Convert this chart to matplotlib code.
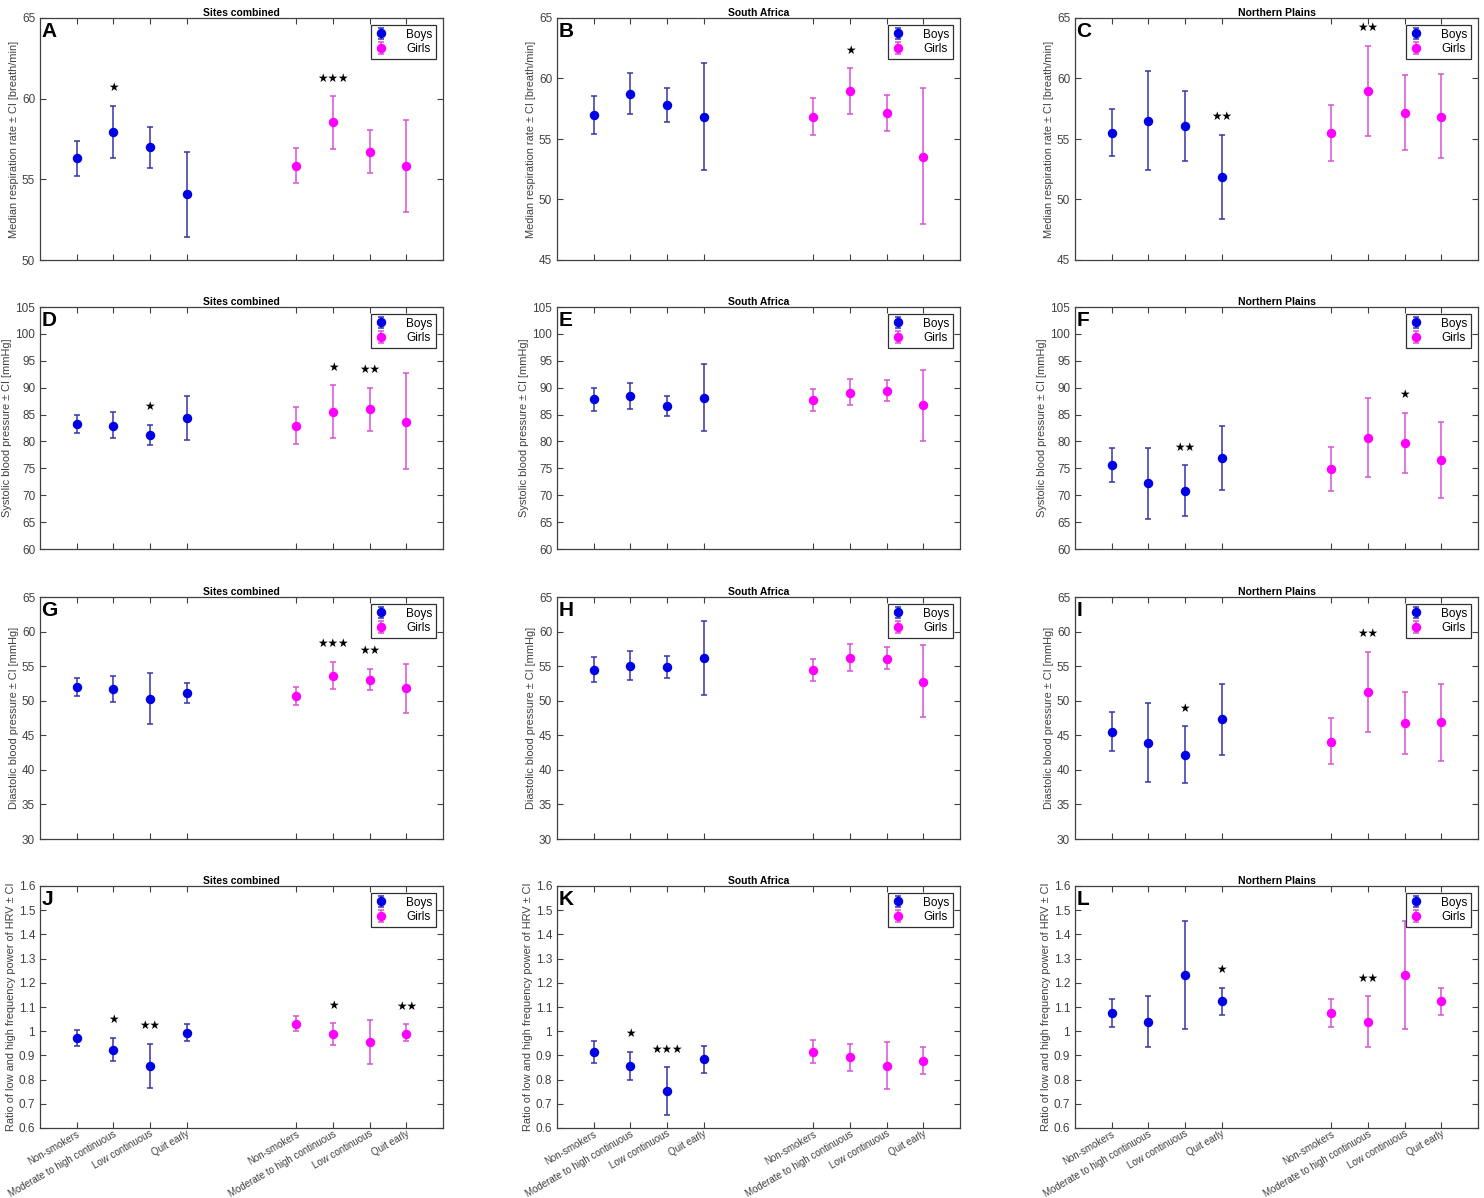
import numpy as np
import matplotlib
matplotlib.use("Agg")
import matplotlib.pyplot as plt
from matplotlib.ticker import MultipleLocator, FormatStrFormatter

plt.rcParams['font.family'] = ['Liberation Sans', 'DejaVu Sans']

# categories: 4 boys groups then 4 girls groups
categories = ["Non-smokers", "Moderate to high continuous", "Low continuous", "Quit early"]
tick_labels = categories + categories
x_pos = [1, 2, 3, 4, 7, 8, 9, 10]
sites = ["Sites combined", "South Africa", "Northern Plains"]
ylabels = ["Median respiration rate \u00b1 CI [breath/min]",
           "Systolic blood pressure \u00b1 CI [mmHg]",
           "Diastolic blood pressure \u00b1 CI [mmHg]",
           "Ratio of low and high frequency power of HRV \u00b1 CI"]

# ---- respiration rate
A_mean = [56.3, 57.95, 57.0, 54.1, 55.85, 58.55, 56.7, 55.8]
A_lo = [55.2, 56.35, 55.7, 51.45, 54.8, 56.9, 55.4, 53.0]
A_hi = [57.4, 59.55, 58.25, 56.7, 56.95, 60.15, 58.05, 58.65]
A_sig = ["", "*", "", "", "", "***", "", ""]

B_mean = [56.95, 58.7, 57.8, 56.85, 56.8, 58.95, 57.15, 53.55]
B_lo = [55.4, 57.05, 56.4, 52.4, 55.3, 57.1, 55.65, 47.95]
B_hi = [58.55, 60.45, 59.25, 61.25, 58.35, 60.85, 58.65, 59.25]
B_sig = ["", "", "", "", "", "*", "", ""]

C_mean = [55.5, 56.5, 56.1, 51.85, 55.5, 58.95, 57.15, 56.85]
C_lo = [53.6, 52.4, 53.2, 48.4, 53.15, 55.25, 54.05, 53.4]
C_hi = [57.45, 60.65, 59.0, 55.35, 57.85, 62.7, 60.3, 60.35]
C_sig = ["", "", "", "**", "", "**", "", ""]

# ---- systolic blood pressure
D_mean = [83.2, 82.9, 81.2, 84.35, 82.9, 85.55, 85.95, 83.7]
D_lo = [81.55, 80.55, 79.4, 80.3, 79.6, 80.6, 82.0, 74.85]
D_hi = [84.9, 85.4, 83.05, 88.5, 86.4, 90.45, 90.0, 92.75]
D_sig = ["", "", "*", "", "", "*", "**", ""]

E_mean = [87.85, 88.4, 86.6, 88.15, 87.65, 89.05, 89.45, 86.75]
E_lo = [85.75, 86.05, 84.75, 81.95, 85.75, 86.7, 87.6, 80.1]
E_hi = [89.95, 90.8, 88.5, 94.4, 89.7, 91.55, 91.5, 93.35]
E_sig = ["", "", "", "", "", "", "", ""]

F_mean = [75.6, 72.2, 70.8, 76.9, 74.85, 80.7, 79.7, 76.5]
F_lo = [72.5, 65.6, 66.05, 71.0, 70.85, 73.45, 74.05, 69.45]
F_hi = [78.85, 78.85, 75.6, 82.85, 79.0, 88.1, 85.3, 83.65]
F_sig = ["", "", "**", "", "", "", "*", ""]

# ---- diastolic blood pressure
G_mean = [52.0, 51.65, 50.3, 51.1, 50.65, 53.6, 53.0, 51.8]
G_lo = [50.7, 49.8, 46.65, 49.65, 49.35, 51.65, 51.5, 48.25]
G_hi = [53.3, 53.55, 53.95, 52.55, 51.95, 55.6, 54.6, 55.35]
G_sig = ["", "", "", "", "", "***", "**", ""]

H_mean = [54.5, 55.05, 54.85, 56.25, 54.45, 56.2, 56.1, 52.75]
H_lo = [52.75, 53.0, 53.25, 50.85, 52.85, 54.35, 54.55, 47.6]
H_hi = [56.35, 57.15, 56.45, 61.55, 56.05, 58.15, 57.7, 58.0]
H_sig = ["", "", "", "", "", "", "", ""]

I_mean = [45.5, 43.9, 42.15, 47.35, 44.1, 51.25, 46.8, 46.85]
I_lo = [42.75, 38.2, 38.1, 42.2, 40.9, 45.5, 42.35, 41.3]
I_hi = [48.3, 49.65, 46.3, 52.4, 47.45, 57.1, 51.25, 52.4]
I_sig = ["", "", "*", "", "", "**", "", ""]

# ---- LF/HF ratio
J_mean = [0.972, 0.924, 0.856, 0.994, 1.03, 0.987, 0.954, 0.99]
J_lo = [0.94, 0.875, 0.766, 0.958, 0.999, 0.943, 0.866, 0.958]
J_hi = [1.007, 0.973, 0.948, 1.03, 1.062, 1.032, 1.045, 1.028]
J_sig = ["", "*", "**", "", "", "*", "", "**"]

K_mean = [0.912, 0.857, 0.752, 0.885, 0.915, 0.892, 0.858, 0.878]
K_lo = [0.869, 0.80, 0.654, 0.829, 0.869, 0.834, 0.763, 0.822]
K_hi = [0.958, 0.916, 0.851, 0.94, 0.964, 0.949, 0.957, 0.934]
K_sig = ["", "*", "***", "", "", "", "", ""]

L_mean = [1.074, 1.039, 1.232, 1.123, 1.074, 1.039, 1.232, 1.123]
L_lo = [1.017, 0.935, 1.01, 1.069, 1.018, 0.935, 1.01, 1.069]
L_hi = [1.134, 1.145, 1.455, 1.179, 1.135, 1.145, 1.455, 1.179]
L_sig = ["", "", "", "*", "", "**", "", ""]

panels = [
    ("A", A_mean, A_lo, A_hi, A_sig, (50, 65), 5),
    ("B", B_mean, B_lo, B_hi, B_sig, (45, 65), 5),
    ("C", C_mean, C_lo, C_hi, C_sig, (45, 65), 5),
    ("D", D_mean, D_lo, D_hi, D_sig, (60, 105), 5),
    ("E", E_mean, E_lo, E_hi, E_sig, (60, 105), 5),
    ("F", F_mean, F_lo, F_hi, F_sig, (60, 105), 5),
    ("G", G_mean, G_lo, G_hi, G_sig, (30, 65), 5),
    ("H", H_mean, H_lo, H_hi, H_sig, (30, 65), 5),
    ("I", I_mean, I_lo, I_hi, I_sig, (30, 65), 5),
    ("J", J_mean, J_lo, J_hi, J_sig, (0.6, 1.6), 0.1),
    ("K", K_mean, K_lo, K_hi, K_sig, (0.6, 1.6), 0.1),
    ("L", L_mean, L_lo, L_hi, L_sig, (0.6, 1.6), 0.1),
]

W, H = 1484, 1198
fig = plt.figure(figsize=(W / 100, H / 100), dpi=100)

col_left = [40, 557, 1075]
row_top = [18, 307, 597, 886]
ax_w, ax_h = 403, 242

boys_c, boys_err = "#0000e6", "#3535a8"
girls_c, girls_err = "#ff00ff", "#d654d6"

for i, (letter, mean, lo, hi, sig, ylim, step) in enumerate(panels):
    r, c = divmod(i, 3)
    ax = fig.add_axes([col_left[c] / W, 1 - (row_top[r] + ax_h) / H, ax_w / W, ax_h / H])
    mean = np.array(mean)
    yerr = np.array([mean - np.array(lo), np.array(hi) - mean])
    xs = np.array(x_pos)
    ax.errorbar(xs[:4], mean[:4], yerr=yerr[:, :4], fmt="o", color=boys_c, ecolor=boys_err,
                elinewidth=1.1, capsize=2.5, capthick=1.1, markersize=5.8, label="Boys")
    ax.errorbar(xs[4:], mean[4:], yerr=yerr[:, 4:], fmt="o", color=girls_c, ecolor=girls_err,
                elinewidth=1.1, capsize=2.5, capthick=1.1, markersize=5.8, label="Girls")
    yr = ylim[1] - ylim[0]
    for x, h, s in zip(x_pos, hi, sig):
        if s:
            ax.text(x, h + 0.075 * yr, "\u2605" * len(s), ha="center", va="center",
                    fontsize=8.5, family="DejaVu Sans", color="black")
    ax.set_xlim(0, 11)
    ax.set_ylim(*ylim)
    ax.yaxis.set_major_locator(MultipleLocator(step))
    ax.yaxis.set_major_formatter(FormatStrFormatter("%g"))
    ax.set_xticks(x_pos)
    ax.tick_params(direction="in", top=True, right=True, length=4, width=0.8,
                   labelcolor="#404040", color="#404040")
    ax.tick_params(axis="y", labelsize=8.5)
    if r == 3:
        ax.set_xticklabels(tick_labels, rotation=30, ha="right", rotation_mode="anchor",
                           fontsize=7.0, color="#404040")
        ax.tick_params(axis="x", pad=0.5)
    else:
        ax.set_xticklabels([])
    for sp in ax.spines.values():
        sp.set_color("#404040")
        sp.set_linewidth(0.9)
    ax.set_ylabel(ylabels[r], fontsize=7.9, color="#404040", labelpad=2)
    ax.set_title(sites[c], fontsize=7.5, fontweight="bold", pad=1.5)
    ax.text(0.003, 0.985, letter, transform=ax.transAxes, ha="left", va="top",
            fontsize=15, fontweight="bold")
    leg = ax.legend(loc="upper right", fontsize=8.5, fancybox=False, framealpha=1,
                    edgecolor="#303030", handlelength=1.2, borderaxespad=0.6,
                    borderpad=0.3, labelspacing=0.2, handletextpad=1.5)
    leg.get_frame().set_linewidth(0.9)

fig.savefig("out.png", dpi=100)
